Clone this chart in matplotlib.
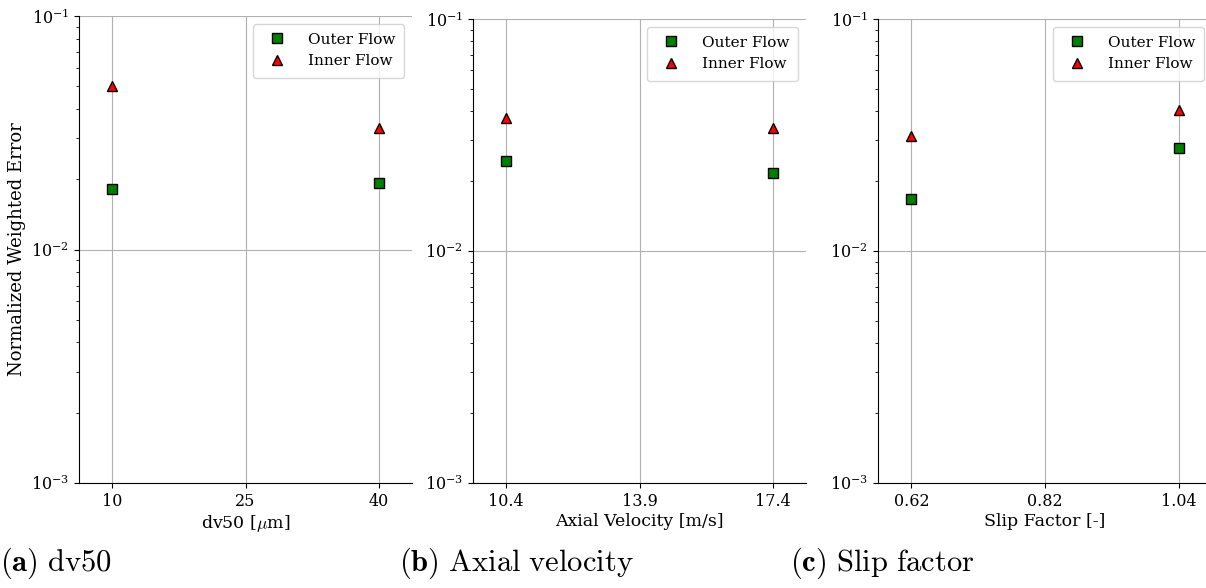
import numpy as np
import matplotlib
matplotlib.use("Agg")
from matplotlib import pyplot as plt

plt.rcParams['font.family'] = 'DejaVu Serif'
plt.rcParams['mathtext.fontset'] = 'dejavuserif'

# x tick labels per panel (points are at first and last)
dv50_ticks = ['10', '25', '40']
vel_ticks = ['10.4', '13.9', '17.4']
slip_ticks = ['0.62', '0.82', '1.04']

# normalized weighted error values
dv50_outer = [0.0181, 0.0192]
dv50_inner = [0.0499, 0.0331]
vel_outer = [0.0245, 0.0216]
vel_inner = [0.0375, 0.0340]
slip_outer = [0.0167, 0.0279]
slip_inner = [0.0314, 0.0405]

xlabels = [r'dv50 [$\mu$m]', 'Axial Velocity [m/s]', 'Slip Factor [-]']
captions = [r'$\mathbf{(a)}\ \mathrm{dv50}$', r'$\mathbf{(b)}\ \mathrm{Axial\ velocity}$',
            r'$\mathbf{(c)}\ \mathrm{Slip\ factor}$']

W, H = 1206.0, 588.0
fig = plt.figure(figsize=(12.06, 5.88), dpi=100)

# axes boxes in pixels: left, top, right, bottom
boxes = [(79, 16, 412, 483), (473, 19, 806, 483), (878, 19, 1212, 483)]
caption_x = [0, 399, 790]

panels = [(dv50_ticks, dv50_outer, dv50_inner),
          (vel_ticks, vel_outer, vel_inner),
          (slip_ticks, slip_outer, slip_inner)]

for i, (ticks, outer, inner) in enumerate(panels):
    l, t, r, b = boxes[i]
    ax = fig.add_axes([l / W, 1 - b / H, (r - l) / W, (b - t) / H])
    xpos = [0, 2]
    ax.plot(xpos, outer, 's', color='green', markeredgecolor='black', markersize=7.5,
            linestyle='none', label='Outer Flow', zorder=3)
    ax.plot(xpos, inner, '^', color='red', markeredgecolor='black', markersize=7.5,
            linestyle='none', label='Inner Flow', zorder=3)
    ax.set_yscale('log')
    ax.set_ylim(1e-3, 1e-1)
    ax.set_xlim(-0.25, 2.25)
    ax.set_xticks([0, 1, 2])
    ax.set_xticklabels(ticks)
    ax.grid(True, which='major', color='#b0b0b0', linewidth=0.8)
    ax.spines['top'].set_visible(False)
    ax.spines['right'].set_visible(False)
    ax.tick_params(labelsize=11.5)
    ax.set_xlabel(xlabels[i], fontsize=12.5, math_fontfamily='cm', labelpad=2)
    if i == 0:
        ax.set_ylabel('Normalized Weighted Error', fontsize=13)
    ax.legend(loc='upper right', fontsize=11, handletextpad=1.0, borderpad=0.6)
    fig.text(caption_x[i] / W, 1 - 571 / H, captions[i], fontsize=22,
             math_fontfamily='cm', va='baseline', ha='left')

fig.savefig('out.png', dpi=100)
